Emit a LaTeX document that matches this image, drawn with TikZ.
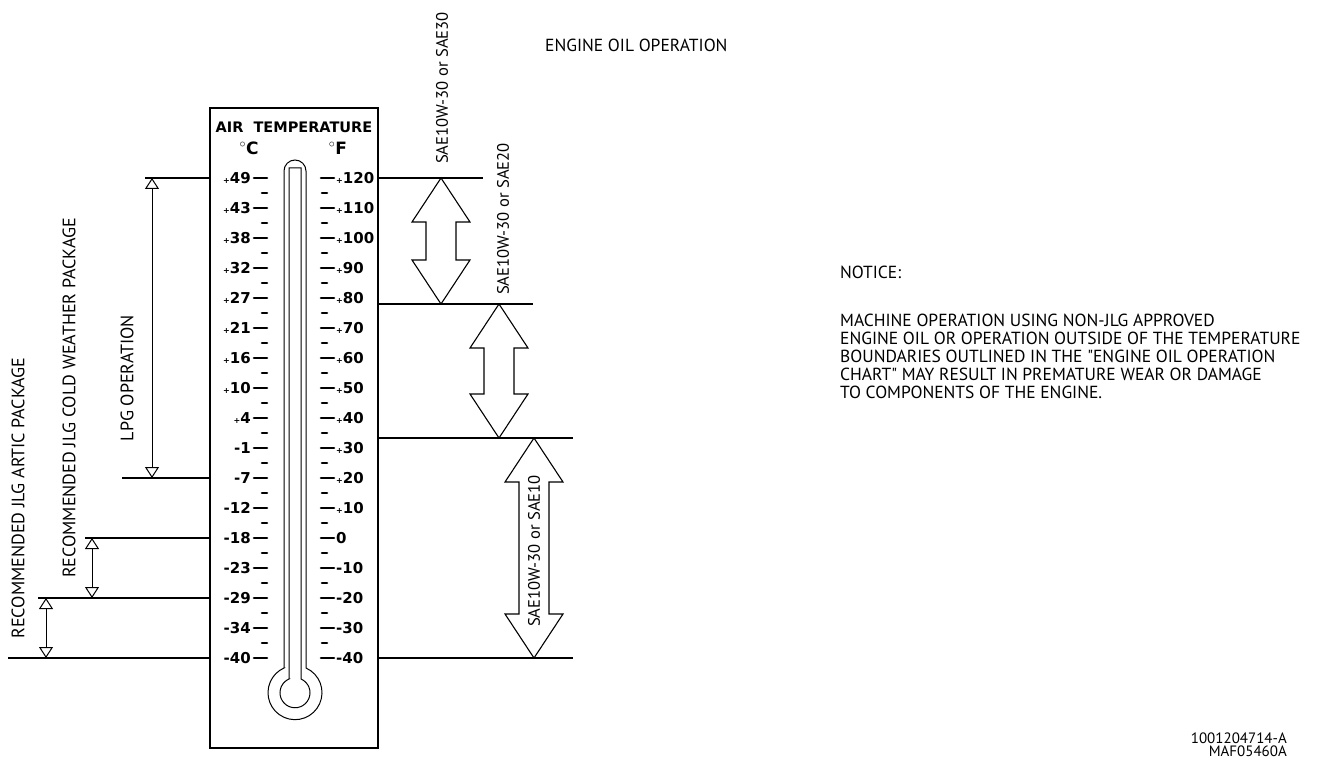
\documentclass[tikz,border=0pt]{standalone}
\usepackage{fontspec}
\setmainfont{PT Sans}
\newfontfamily\notefont{PT Sans}
\newfontfamily\cadfont{DejaVu Sans}
\usetikzlibrary{positioning,arrows.meta}

% small raised plus of the scale
\newcommand{\pl}{{\fontsize{8}{8}\selectfont+}}

% hollow double arrow: x, top y, bottom y
\newcommand{\oilarrow}[3]{%
  \draw[oilshape] (#1,#2) -- ++(29,44) -- ++(-14,0) -- (#1+15,#3-44)
    -- ++(14,0) -- (#1,#3) -- ++(-29,-44) -- ++(14,0) -- (#1-15,#2+44)
    -- ++(-14,0) -- cycle;}

\begin{document}
\begin{tikzpicture}[
    x=1pt,y=-1pt,
    >={Triangle[open,width=14pt,length=11pt]},
    frame/.style={line width=1.2pt},
    limit/.style={line width=1.1pt},
    span/.style={<->,line width=1pt},
    oilshape/.style={line width=1.1pt,fill=white},
    tick/.style={line width=2.6pt,line cap=round},
    scalefont/.style={font=\cadfont\bfseries\fontsize{15}{15}\selectfont,inner sep=0pt},
    titlefont/.style={font=\cadfont\bfseries\fontsize{14.5}{15}\selectfont,inner sep=0pt},
    label/.style={font=\fontsize{18}{18}\selectfont,inner sep=0pt},
    oillabel/.style={font=\fontsize{16.6}{17}\selectfont,inner sep=0pt},
    note/.style={font=\notefont\fontsize{17.5}{18}\selectfont,inner sep=0pt,align=left}
  ]
  \useasboundingbox (0,0) rectangle (1323,762);

  %--------------------------------------------------
  % Thermometer
  %--------------------------------------------------

  \draw[frame] (210,108) rectangle (378,748);
  \node[titlefont] (title) at (294,127) {AIR\ \ TEMPERATURE};
  \node[scalefont,font=\cadfont\bfseries\fontsize{17}{17}\selectfont] (degc) at (249,148) {$^\circ$C};
  \node[scalefont,font=\cadfont\bfseries\fontsize{17}{17}\selectfont] (degf) at (338,148) {$^\circ$F};

  \draw[line width=1pt] (284,668) -- (284,171) arc (180:360:11)
    -- (306,668) arc (-65.96:245.96:27) -- cycle;
  \draw[line width=1pt] (289,679) -- (289,168) -- (301,168)
    -- (301,679) arc (-66.42:246.42:15) -- cycle;

  \foreach \c/\f [count=\i from 0] in
    {\pl49/\pl120,\pl43/\pl110,\pl38/\pl100,\pl32/\pl90,\pl27/\pl80,
     \pl21/\pl70,\pl16/\pl60,\pl10/\pl50,\pl4/\pl40,-1/\pl30,-7/\pl20,
     -12/\pl10,-18/0,-23/-10,-29/-20,-34/-30,-40/-40}
  {
    \node[scalefont,anchor=east] (c\i) at (251,178+30*\i) {\c};
    \node[scalefont,anchor=west] (f\i) at (336,178+30*\i) {\f};
    \draw[tick] (254,178+30*\i) -- (267,178+30*\i);
    \draw[tick] (321,178+30*\i) -- (334,178+30*\i);
  }
  \foreach \i in {0,...,15}
  {
    \draw[tick] (262,193+30*\i) -- (267,193+30*\i);
    \draw[tick] (322,193+30*\i) -- (327,193+30*\i);
  }

  %--------------------------------------------------
  % Limit lines
  %--------------------------------------------------

  \coordinate (lpgtop) at (152,178);
  \coordinate (lpgbot) at (152,478);
  \coordinate (coldtop) at (92,538);
  \coordinate (coldbot) at (92,598);
  \coordinate (artictop) at (46,598);
  \coordinate (articbot) at (46,658);

  \draw[limit] (145,178) -- (210,178);
  \draw[limit] (122,478) -- (210,478);
  \draw[limit] (85,538) -- (210,538);
  \draw[limit] (38,598) -- (210,598);
  \draw[limit] (8,658) -- (210,658);

  \draw[limit] (378,178) -- (483,178);
  \draw[limit] (378,304) -- (533,304);
  \draw[limit] (378,438) -- (573,438);
  \draw[limit] (378,658) -- (573,658);

  %--------------------------------------------------
  % Ranges
  %--------------------------------------------------

  \draw[span] (lpgtop) -- (lpgbot);
  \draw[span] (coldtop) -- (coldbot);
  \draw[span] (artictop) -- (articbot);

  \node[label,rotate=90] (lpg) at (127,378) {LPG OPERATION};
  \node[label,rotate=90] (cold) at (69,398)
    {RECOMMENDED JLG COLD WEATHER PACKAGE};
  \node[label,rotate=90] (artic) at (18,498)
    {RECOMMENDED JLG ARTIC PACKAGE};

  \oilarrow{441}{178}{304}
  \oilarrow{499}{304}{438}
  \oilarrow{534}{438}{658}

  \node[oillabel,rotate=90] (sae30) at (442,88) {SAE10W-30 or SAE30};
  \node[oillabel,rotate=90] (sae20) at (503,219) {SAE10W-30 or SAE20};
  \node[oillabel,rotate=90] (sae10) at (534,551) {SAE10W-30 or SAE10};

  %--------------------------------------------------
  % Texts
  %--------------------------------------------------

  \node[note,anchor=west] (chart) at (545,45) {ENGINE OIL OPERATION};
  \node[note,anchor=west] (notice) at (840,272) {NOTICE:};
  \node[note,anchor=north west] (warning) at (840,314)
    {MACHINE OPERATION USING NON-JLG APPROVED\\
     ENGINE OIL OR OPERATION OUTSIDE OF THE TEMPERATURE\\
     BOUNDARIES OUTLINED IN THE "ENGINE OIL OPERATION\\
     CHART" MAY RESULT IN PREMATURE WEAR OR DAMAGE\\
     TO COMPONENTS OF THE ENGINE.};
  \node[font=\notefont\fontsize{15}{13}\selectfont,inner sep=0pt,align=right,
    anchor=north east] (ref) at (1287,733) {1001204714-A\\MAF05460A};

\end{tikzpicture}
\end{document}
